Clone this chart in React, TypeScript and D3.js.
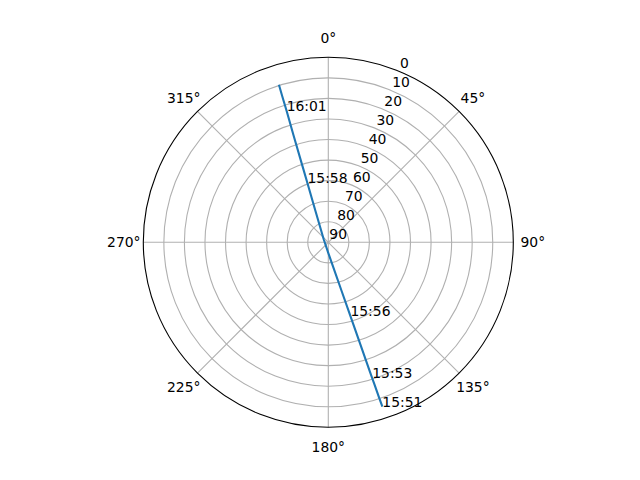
import { useEffect, useRef } from 'react';
import * as d3 from 'd3';

// pass samples: time, azimuth (deg, clockwise from N), elevation (deg)
const times = [
    '15:51:00', '15:52:00', '15:53:00', '15:53:30', '15:54:00', '15:55:00',
    '15:56:00', '15:56:30', '15:57:00', '15:57:15', '15:57:30', '15:58:00',
    '15:58:30', '15:59:00', '16:00:00', '16:01:00', '16:02:00', '16:03:00',
];
const azimuths = [
    161.8, 161.9, 162.0, 162.1, 162.2, 162.5,
    163.3, 164.6, 169.2, 180.8, 301.9, 337.6,
    340.6, 341.3, 342.0, 342.4, 342.5, 342.6,
];
const elevations = [
    5.8, 11.3, 17.2, 20.4, 24.4, 35.6,
    52.5, 64.8, 78.3, 85.0, 87.4, 73.8,
    59.5, 50.5, 35.0, 23.0, 15.5, 9.7,
];
const labelIdx = [0, 3, 6, 12, 15];

const thetaTicks = [0, 45, 90, 135, 180, 225, 270, 315];
const rTicks = [0, 10, 20, 30, 40, 50, 60, 70, 80, 90];

const W = 640;
const H = 480;
const FONT = '"DejaVu Sans", sans-serif';

export default function App() {
    const svgRef = useRef<SVGSVGElement>(null);

    useEffect(() => {
        if (!svgRef.current) return;
        d3.select(svgRef.current).selectAll('*').remove();

        const cx = 328.3;
        const cy = 242.3;
        const R = 185;
        const rad = (d: number) => (d * Math.PI) / 180;

        const r = d3.scaleLinear().domain([90, 0]).range([0, R]);

        const svg = d3.select(svgRef.current)
            .attr('width', W)
            .attr('height', H);

        svg.append('rect').attr('width', W).attr('height', H).attr('fill', '#fff');

        const g = svg.append('g').attr('transform', `translate(${cx},${cy})`);

        // grid circles
        g.selectAll('.ring')
            .data(rTicks.filter(v => v > 0 && v < 90))
            .enter()
            .append('circle')
            .attr('r', d => r(d))
            .attr('fill', 'none')
            .attr('stroke', '#b0b0b0')
            .attr('stroke-width', 1.1);

        // spokes
        g.selectAll('.spoke')
            .data(thetaTicks)
            .enter()
            .append('line')
            .attr('x1', 0)
            .attr('y1', 0)
            .attr('x2', d => R * Math.sin(rad(d)))
            .attr('y2', d => -R * Math.cos(rad(d)))
            .attr('stroke', '#b0b0b0')
            .attr('stroke-width', 1.1);

        // outer spine
        g.append('circle')
            .attr('r', R)
            .attr('fill', 'none')
            .attr('stroke', '#000')
            .attr('stroke-width', 1.1);

        // angle labels
        g.selectAll('.tlab')
            .data(thetaTicks)
            .enter()
            .append('text')
            .attr('x', d => (R + 19.5) * Math.sin(rad(d)))
            .attr('y', d => -(R + 19.5) * Math.cos(rad(d)))
            .attr('text-anchor', 'middle')
            .attr('dominant-baseline', 'central')
            .style('font-family', FONT)
            .style('font-size', '13.9px')
            .text(d => `${d}°`);

        // radial labels at 22.5°
        const la = rad(22.5);
        g.selectAll('.rlab')
            .data(rTicks)
            .enter()
            .append('text')
            .attr('x', d => r(d) * Math.sin(la) + 1)
            .attr('y', d => -r(d) * Math.cos(la) - 3)
            .style('font-family', FONT)
            .style('font-size', '13.9px')
            .text(d => String(d));

        // pass track
        const idx = d3.range(times.length);
        const line = d3.lineRadial<number>()
            .angle(i => rad(azimuths[i]))
            .radius(i => r(elevations[i]));

        g.append('path')
            .datum(idx)
            .attr('fill', 'none')
            .attr('stroke', '#1f77b4')
            .attr('stroke-width', 2.1)
            .attr('stroke-linejoin', 'round')
            .attr('d', line);

        // time labels
        g.selectAll('.time')
            .data(labelIdx)
            .enter()
            .append('text')
            .attr('x', i => r(elevations[i]) * Math.sin(rad(azimuths[i])))
            .attr('y', i => -r(elevations[i]) * Math.cos(rad(azimuths[i])))
            .style('font-family', FONT)
            .style('font-size', '13.9px')
            .text(i => times[i].slice(0, 5));
    }, []);

    return (
        <svg
            ref={svgRef}
            style={{ position: 'absolute', left: 0, top: 0, display: 'block' }}
        />
    );
}
